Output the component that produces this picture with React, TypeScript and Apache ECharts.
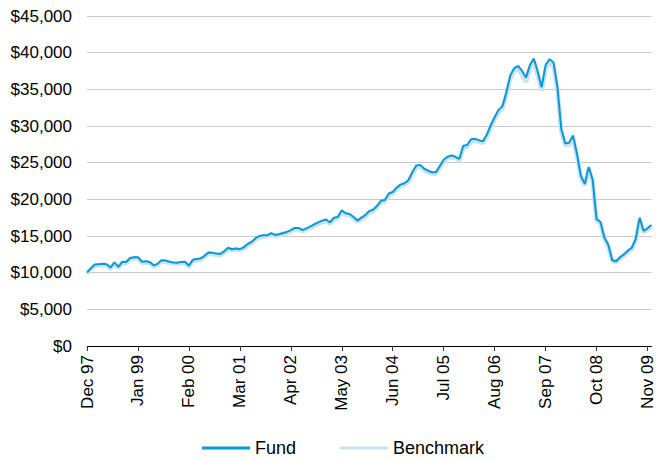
import React, { useEffect, useRef } from "react";
import * as echarts from "echarts";

const monthNames = ["Dec", "Jan", "Feb", "Mar", "Apr", "May", "Jun", "Jul", "Aug", "Sep", "Oct", "Nov"];
const startYear = 1997;
const monthCount = 145;

const fundValues = [
  10.0, 10.6, 11.1, 11.15, 11.2, 11.15, 10.7, 11.4, 10.8, 11.5,
  11.45, 12.0, 12.1, 12.1, 11.5, 11.55, 11.45, 11.0, 11.2, 11.7,
  11.65, 11.5, 11.4, 11.35, 11.45, 11.5, 10.95, 11.75, 11.85, 11.95,
  12.3, 12.75, 12.7, 12.6, 12.55, 12.9, 13.4, 13.2, 13.3, 13.2,
  13.45, 13.9, 14.2, 14.7, 15.0, 15.1, 15.1, 15.4, 15.15, 15.25,
  15.4, 15.55, 15.8, 16.1, 16.1, 15.8, 16.05, 16.3, 16.6, 16.85,
  17.1, 17.25, 16.85, 17.5, 17.6, 18.5, 18.1, 18.0, 17.6, 17.1,
  17.5, 17.85, 18.4, 18.6, 19.1, 19.8, 19.9, 20.8, 21.0, 21.6,
  22.0, 22.2, 22.6, 23.7, 24.6, 24.7, 24.2, 23.9, 23.7, 23.7,
  24.5, 25.4, 25.8, 26.0, 25.8, 25.5, 27.3, 27.4, 28.2, 28.25,
  28.05, 27.9, 28.8, 30.1, 31.2, 32.2, 32.7, 34.6, 36.9, 37.9,
  38.2, 37.5, 36.6, 38.3, 39.2, 37.4, 35.3, 38.3, 39.1, 38.7,
  35.4, 29.6, 27.65, 27.7, 28.7, 26.2, 23.2, 22.1, 24.4, 22.7,
  17.3, 16.9, 14.8, 13.8, 11.7, 11.55, 12.1, 12.5, 13.0, 13.4,
  14.6, 17.5, 15.7, 16.05, 16.5,
];

const benchmarkValues = [
  10.0, 10.45, 10.95, 11.0, 11.05, 11.0, 10.55, 11.2, 10.65, 11.3,
  11.3, 11.8, 11.95, 11.95, 11.35, 11.4, 11.3, 10.85, 11.05, 11.55,
  11.5, 11.35, 11.25, 11.2, 11.3, 11.35, 10.8, 11.6, 11.7, 11.8,
  12.15, 12.6, 12.55, 12.45, 12.4, 12.75, 13.2, 13.05, 13.15, 13.05,
  13.3, 13.75, 14.05, 14.5, 14.8, 14.9, 14.95, 15.2, 15.0, 15.1,
  15.25, 15.4, 15.6, 15.9, 15.9, 15.65, 15.9, 16.1, 16.4, 16.65,
  16.9, 17.05, 16.7, 17.3, 17.4, 18.2, 17.9, 17.8, 17.4, 16.95,
  17.3, 17.65, 18.2, 18.4, 18.9, 19.55, 19.7, 20.55, 20.8, 21.4,
  21.8, 22.0, 22.4, 23.4, 24.3, 24.45, 24.0, 23.7, 23.5, 23.5,
  24.3, 25.15, 25.6, 25.8, 25.6, 25.3, 27.0, 27.15, 27.95, 28.0,
  27.8, 27.7, 28.5, 29.8, 30.9, 31.9, 32.4, 34.2, 36.5, 37.5,
  37.8, 37.0, 36.0, 37.8, 38.7, 36.9, 34.8, 37.8, 38.6, 38.2,
  35.0, 29.3, 27.4, 27.45, 28.4, 25.9, 23.0, 21.9, 24.1, 22.5,
  17.1, 16.75, 14.6, 13.6, 11.6, 11.45, 11.95, 12.35, 12.85, 13.25,
  14.4, 17.2, 15.5, 15.85, 16.3,
];

const categories: string[] = [];
for (let i = 0; i < monthCount; i++) {
  const m = i % 12;
  const yr = startYear + Math.floor((i + 11) / 12);
  categories.push(monthNames[m] + " " + String(yr % 100).padStart(2, "0"));
}

const fundData = fundValues.map((v) => Math.round(v * 1000));
const benchmarkData = benchmarkValues.map((v) => Math.round(v * 1000));

const FONT = "'Liberation Sans', Arial, sans-serif";

export default function App() {
  const ref = useRef<HTMLDivElement>(null);
  useEffect(() => {
    document.body.style.margin = "0";
    const chart = echarts.init(ref.current!, null, { renderer: "svg" });
    chart.setOption({
      animation: false,
      textStyle: { fontFamily: FONT },
      grid: { left: 87, right: 1, top: 16, bottom: 115, containLabel: false },
      legend: {
        left: 197,
        top: 434,
        itemWidth: 48,
        itemHeight: 3,
        itemGap: 44,
        icon: "rect",
        textStyle: { fontFamily: FONT, fontSize: 18, color: "#000" },
        data: [
          { name: "Fund", itemStyle: { color: "#0B98D5" } },
          { name: "Benchmark", itemStyle: { color: "#C8E2F6" } },
        ],
      },
      xAxis: {
        type: "category",
        data: categories,
        boundaryGap: false,
        axisLine: { lineStyle: { color: "#000", width: 1 } },
        axisTick: {
          interval: (i: number) => i % 13 === 0,
          length: 5,
          lineStyle: { color: "#333" },
        },
        axisLabel: {
          interval: (i: number) => i % 13 === 0,
          rotate: 90,
          margin: 9,
          fontSize: 17,
          color: "#000",
          fontFamily: FONT,
        },
        splitLine: { show: false },
      },
      yAxis: {
        type: "value",
        min: 0,
        max: 45000,
        interval: 5000,
        axisLine: { show: false },
        axisTick: { show: false },
        axisLabel: {
          margin: 15,
          fontSize: 17,
          color: "#000",
          fontFamily: FONT,
          formatter: (v: number) => "$" + v.toLocaleString("en-US"),
        },
        splitLine: { lineStyle: { color: "#C8C8C8", width: 1 } },
      },
      series: [
        {
          name: "Fund",
          type: "line",
          data: fundData,
          showSymbol: false,
          symbol: "none",
          z: 3,
          lineStyle: { color: "#0B98D5", width: 2 },
          itemStyle: { color: "#0B98D5" },
        },
        {
          name: "Benchmark",
          type: "line",
          data: benchmarkData,
          showSymbol: false,
          symbol: "none",
          z: 2,
          lineStyle: { color: "#C8E2F6", width: 4.5 },
          itemStyle: { color: "#C8E2F6" },
        },
      ],
    });
    return () => chart.dispose();
  }, []);
  return <div ref={ref} style={{ width: 656, height: 461 }} />;
}
